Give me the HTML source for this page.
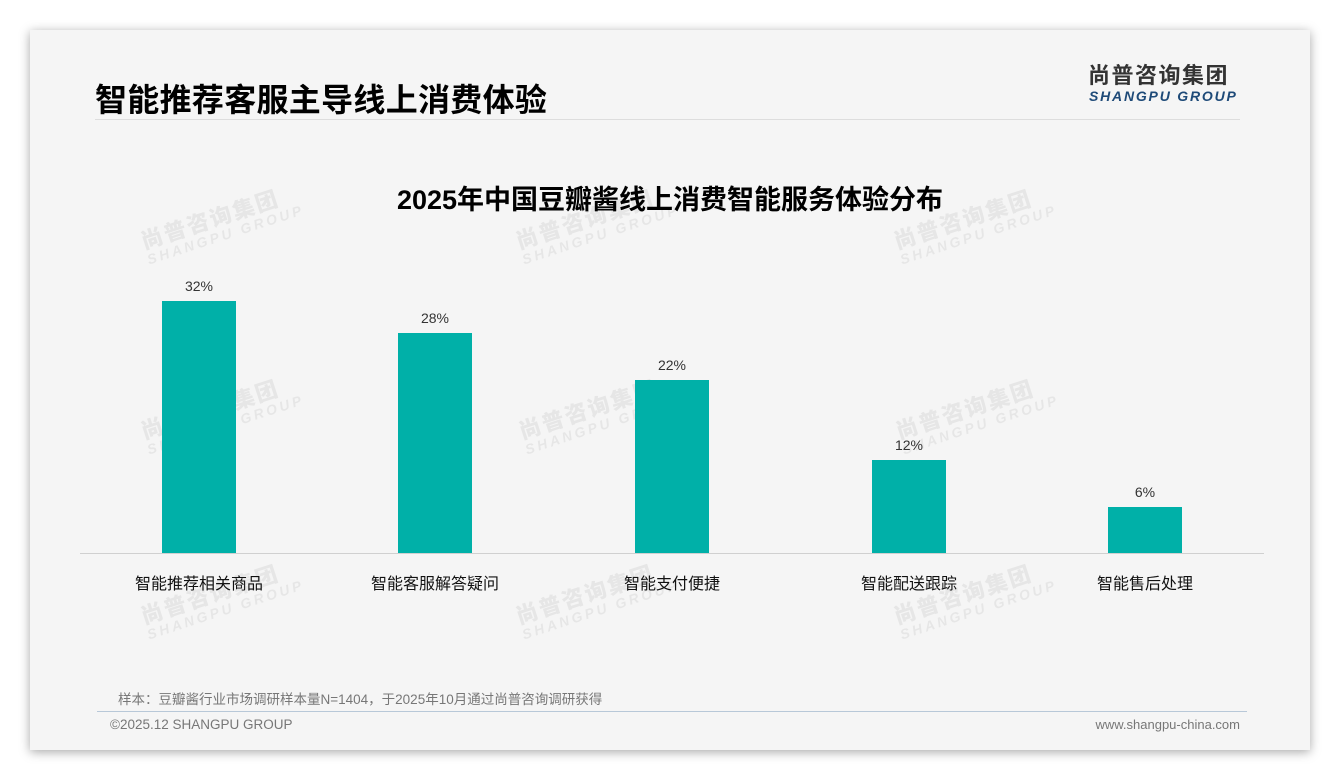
<!DOCTYPE html>
<html><head><meta charset="utf-8"><style>
body{margin:0;width:1340px;height:780px;background:#fff;position:relative;overflow:hidden;font-family:"Liberation Sans","Noto Sans CJK SC",sans-serif}
.card{position:absolute;left:30px;top:30px;width:1280px;height:720px;background:#f5f5f5;box-shadow:0 2px 10px rgba(0,0,0,.35)}
.a{position:absolute;white-space:nowrap}
.bar{position:absolute;width:74px;background:#00b0a8}
.v{position:absolute;width:100px;text-align:center;font-size:14px;color:#333}
.l{position:absolute;width:200px;text-align:center;font-size:16px;color:#111}
.wm{position:absolute;color:rgba(0,0,0,0.06);transform:rotate(-18deg);font-weight:bold;line-height:1.05}
.wm b{display:block;font-size:22px;letter-spacing:2px}.wm i{display:block;font-size:14px;letter-spacing:3px;font-style:italic}
</style></head><body>
<div class="card"></div>
<div class="a" style="left:95px;top:75px;font-size:32px;font-weight:bold;color:#000;letter-spacing:0.3px">智能推荐客服主导线上消费体验</div>
<div class="a" style="left:95px;top:119px;width:1145px;height:1px;background:#ddd"></div>
<div class="a" style="left:1088px;top:58px;font-size:22px;font-weight:bold;color:#333;letter-spacing:1.5px">尚普咨询集团</div>
<div class="a" style="left:1089px;top:88px;font-size:14px;font-weight:bold;font-style:italic;color:#1e4a78;letter-spacing:1.8px">SHANGPU GROUP</div>
<div class="a" style="left:0;width:1340px;text-align:center;top:178px;font-size:27px;font-weight:bold;color:#000">2025年中国豆瓣酱线上消费智能服务体验分布</div>
<div class="wm" style="left:140px;top:205px"><b>尚普咨询集团</b><i>SHANGPU GROUP</i></div>
<div class="wm" style="left:515px;top:205px"><b>尚普咨询集团</b><i>SHANGPU GROUP</i></div>
<div class="wm" style="left:893px;top:205px"><b>尚普咨询集团</b><i>SHANGPU GROUP</i></div>
<div class="wm" style="left:140px;top:395px"><b>尚普咨询集团</b><i>SHANGPU GROUP</i></div>
<div class="wm" style="left:518px;top:395px"><b>尚普咨询集团</b><i>SHANGPU GROUP</i></div>
<div class="wm" style="left:895px;top:395px"><b>尚普咨询集团</b><i>SHANGPU GROUP</i></div>
<div class="wm" style="left:140px;top:580px"><b>尚普咨询集团</b><i>SHANGPU GROUP</i></div>
<div class="wm" style="left:515px;top:580px"><b>尚普咨询集团</b><i>SHANGPU GROUP</i></div>
<div class="wm" style="left:893px;top:580px"><b>尚普咨询集团</b><i>SHANGPU GROUP</i></div>
<div class="bar" style="left:162px;top:301px;height:252px"></div>
<div class="bar" style="left:398px;top:333px;height:220px"></div>
<div class="bar" style="left:635px;top:380px;height:173px"></div>
<div class="bar" style="left:872px;top:460px;height:93px"></div>
<div class="bar" style="left:1108px;top:507px;height:46px"></div>
<div class="v" style="left:149px;top:278px">32%</div>
<div class="v" style="left:385px;top:310px">28%</div>
<div class="v" style="left:622px;top:357px">22%</div>
<div class="v" style="left:859px;top:437px">12%</div>
<div class="v" style="left:1095px;top:484px">6%</div>
<div class="a" style="left:80px;top:553px;width:1184px;height:1px;background:#d0d0d0"></div>
<div class="l" style="left:99px;top:570px">智能推荐相关商品</div>
<div class="l" style="left:335px;top:570px">智能客服解答疑问</div>
<div class="l" style="left:572px;top:570px">智能支付便捷</div>
<div class="l" style="left:809px;top:570px">智能配送跟踪</div>
<div class="l" style="left:1045px;top:570px">智能售后处理</div>
<div class="a" style="left:118px;top:688px;font-size:13.5px;color:#777">样本：豆瓣酱行业市场调研样本量N=1404，于2025年10月通过尚普咨询调研获得</div>
<div class="a" style="left:97px;top:711px;width:1150px;height:1px;background:#b8c8d8"></div>
<div class="a" style="left:110px;top:717px;font-size:13.5px;color:#777">©2025.12 SHANGPU GROUP</div>
<div class="a" style="right:100px;top:717px;font-size:13px;color:#777">www.shangpu-china.com</div>
</body></html>
